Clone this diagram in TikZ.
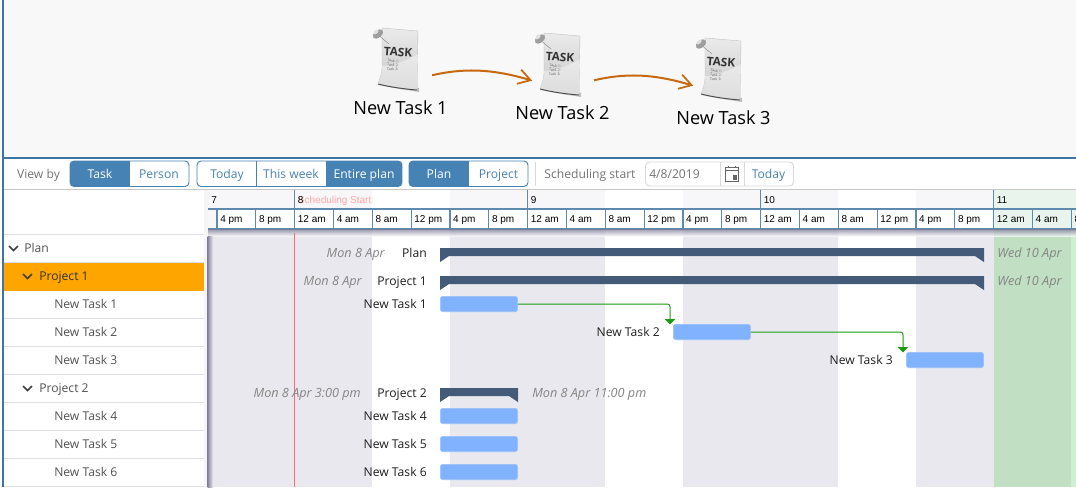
\documentclass[tikz,border=0pt]{standalone}
\usepackage{fontspec}
\setmainfont{Open Sans}
\newfontfamily\headfont{Liberation Sans}
\usetikzlibrary{positioning,arrows.meta}

\definecolor{topgray}{HTML}{F8F8F8}
\definecolor{frameblue}{HTML}{3F74A3}
\definecolor{btnblue}{HTML}{4682B4}
\definecolor{offgray}{HTML}{E9E8EF}
\definecolor{offhead}{HTML}{F7F7FA}
\definecolor{rowline}{HTML}{DFDFE8}
\definecolor{barblue}{HTML}{80B2FF}
\definecolor{sumblue}{HTML}{435A78}
\definecolor{depgreen}{HTML}{1A9A10}
\definecolor{flowbrown}{HTML}{C8680F}
\definecolor{weekgreen}{HTML}{C0DFC3}
\definecolor{weeklight}{HTML}{CFF0D0}
\definecolor{headgreen}{HTML}{E9F4EC}
\definecolor{treeorange}{HTML}{FFA500}
\definecolor{tickblue}{HTML}{5F8AAF}
\definecolor{shadowgray}{HTML}{85839C}
\definecolor{nowred}{HTML}{FF6B70}

% page icon, #1 = name, top left corner of the sheet at (#2,#3)
\newcommand{\taskicon}[3]{
    \begin{scope}[shift={(#2,#3)}]
        \fill[black!25] (-3,57) .. controls (10,60) and (25,62) .. (37,64) -- (37,60) -- (-3,54) -- cycle;
        \shade[top color=black!8, bottom color=black!22, draw=black!25, line width=.3pt]
            (0,0) -- (36,3) -- (35,62) .. controls (22,61) and (8,59) .. (-4,56)
            .. controls (-2,50) and (0,46) .. (0,40) -- cycle;
        \fill[white, opacity=.4] (0,38) .. controls (12,38) and (26,32) .. (36,26) -- (35,62)
            .. controls (22,61) and (8,59) .. (-4,56) .. controls (-2,50) and (0,46) .. (0,40) -- cycle;
        \draw[black!70, line width=.7pt] (-4,56) .. controls (8,59) and (22,61) .. (35,62);
        \draw[black!50, line width=.3pt] (-5,6) -- (7,16);
        \fill[black!38, rotate around={40:(-4,6)}] (-4,6) ellipse [x radius=6, y radius=3.6];
        \fill[black!12, rotate around={40:(-6,4)}] (-6,4) ellipse [x radius=3, y radius=1.8];
        \node[icontitle] at (16,24) {TASK};
        \node[icontiny] at (11,37) {Task 1:\\Task 2:\\Task 3:};
        \node[taskbox] (#1) at (18.5,31) {};
    \end{scope}
}
% button group, the part from #3 to #4 is the active one
\newcommand{\btngroup}[4]{
    \begin{scope}
        \clip[rounded corners=3pt] (#1,161) rectangle (#2,186.5);
        \fill[btnblue] (#3,161) rectangle (#4,186.5);
    \end{scope}
    \draw[btnblue, rounded corners=3pt, line width=.7pt] (#1,161) rectangle (#2,186.5);
}
% summary bar with its two small tips
\newcommand{\sumbar}[3]{
    \fill[sumblue] (#1,#3) -- (#2,#3) -- (#2,#3+14) -- (#2-9,#3+8) -- (#1+9,#3+8) -- (#1,#3+14) -- cycle;
}

\begin{document}
\begin{tikzpicture}[x=.75pt, y=-.75pt,
    txt/.style = {inner sep=0, text height=8.5pt, text depth=1.5pt, font=\fontsize{9.1}{11}\selectfont},
    treetxt/.style = {txt, anchor=west, text=black!68},
    barlabel/.style = {txt, text=black!88},
    datelabel/.style = {txt, text=black!48, font=\fontsize{9.5}{11}\selectfont\itshape},
    btntxt/.style = {txt, text=btnblue},
    btnon/.style = {txt, text=white},
    tooltxt/.style = {txt, text=black!55},
    headtxt/.style = {inner sep=0, anchor=west, text height=6pt, text depth=1.5pt, font=\headfont\fontsize{7.5}{9}\selectfont},
    tasklabel/.style = {inner sep=2.5pt, font=\fontsize{13.6}{16}\selectfont},
    icontitle/.style = {inner sep=0, rotate=-4, text=black!80, font=\fontsize{8.8}{9}\selectfont\bfseries},
    icontiny/.style = {inner sep=0, align=left, rotate=-4, text=black!60, font=\fontsize{2.8}{3.1}\selectfont},
    taskbox/.style = {inner sep=0, minimum width=47pt, minimum height=24pt},
    taskbar/.style = {inner sep=0, anchor=west, fill=barblue, draw=barblue!80!white, line width=.4pt,
        rounded corners=2pt, minimum width=58pt, minimum height=11.6pt},
    flow/.style = {flowbrown, line width=1.5pt, shorten >=-1pt, -{Straight Barb[length=9pt, width=11pt, line width=1.3pt]}},
    dep/.style = {depgreen, line width=.75pt, rounded corners=2pt, -{Triangle[length=4pt, width=7.5pt]}}]
    \useasboundingbox (0,0) rectangle (1076,487);

    % top part with the three tasks
    \fill[topgray] (0,0) rectangle (1076,157);
    \taskicon{icon1}{382}{28}
    \taskicon{icon2}{544}{33}
    \taskicon{icon3}{705}{38}
    \node[tasklabel] (label1) [below=16.5pt of icon1] {New Task 1};
    \node[tasklabel] (label2) [below=16.5pt of icon2] {New Task 2};
    \node[tasklabel] (label3) [below=16.5pt of icon3] {New Task 3};
    \draw[flow] (icon1.south east) .. controls +(30,-7) and +(-40,-12) .. (icon2.south west);
    \draw[flow] (icon2.south east) .. controls +(30,-7) and +(-40,-12) .. (icon3.south west);

    % toolbar
    \fill[white] (4,158) rectangle (1076,189);
    \node[tooltxt] (viewby) at (38.5,173.5) {View by};
    \btngroup{70}{189}{70}{129.5}
    \btngroup{197}{402}{326}{402}
    \btngroup{409}{528}{409}{468.5}
    \draw[btnblue, line width=.7pt] (256.5,161) -- (256.5,186.5);
    \node[btnon] (bytask) at (100,173.5) {Task};
    \node[btntxt] (byperson) at (159,173.5) {Person};
    \node[btntxt] (today) at (227,173.5) {Today};
    \node[btntxt] (week) at (291,173.5) {This week};
    \node[btnon] (entire) at (364,173.5) {Entire plan};
    \node[btnon] (plan) at (439,173.5) {Plan};
    \node[btntxt] (project) at (498.5,173.5) {Project};
    \draw[black!15] (535,162) -- (535,186);
    \node[tooltxt] (schedule) at (590,173.5) {Scheduling start};
    \draw[black!15, rounded corners=3pt, line width=.7pt] (645.5,162) rectangle (793.5,186);
    \draw[black!15, line width=.7pt] (720.5,162) -- (720.5,186) (744.5,162) -- (744.5,186);
    \node[tooltxt, anchor=west] (date) at (649,173.5) {4/8/2019};
    \node[btntxt] (todaytwo) at (768.5,173.5) {Today};
    \draw[black!60, line width=.6pt] (725.5,167.5) rectangle (738.5,181.5);
    \draw[black!60, line width=.6pt] (725.5,170.5) -- (738.5,170.5);
    \fill[black!60] (732.5,175) rectangle (737,180);
    \draw[black!60, line width=.8pt] (728.5,165.5) -- (728.5,168) (735.5,165.5) -- (735.5,168);

    % columns of the chart
    \fill[white] (208,189) rectangle (1076,487);
    \foreach \a/\b in {208/372.4, 450/605.4, 683/838.4, 916/993.6} {
        \fill[offgray] (\a,229) rectangle (\b,487);
        \fill[offhead] (\a,190) rectangle (\b,209);
    }
    \fill[weekgreen] (993.6,229) rectangle (1071.3,487);
    \fill[weeklight] (1071.3,229) rectangle (1076,487);
    \fill[headgreen] (993.6,190) rectangle (1076,229);
    \fill[offhead] (208,209) rectangle (217,229);

    % time scale
    \draw[black!22] (208,189.5) -- (1076,189.5);
    \draw[tickblue, line width=.9pt] (208,209) -- (1076,209) (208,229) -- (1076,229);
    \foreach \k/\lab in {0/4 pm, 1/8 pm, 2/12 am, 3/4 am, 4/8 am, 5/12 pm, 6/4 pm, 7/8 pm, 8/12 am, 9/4 am, 10/8 am,
        11/12 pm, 12/4 pm, 13/8 pm, 14/12 am, 15/4 am, 16/8 am, 17/12 pm, 18/4 pm, 19/8 pm, 20/12 am, 21/4 am, 22/8} {
        \pgfmathsetmacro{\tx}{217+38.83*\k}
        \draw[tickblue, line width=.9pt] (\tx,209) -- (\tx,229);
        \node[headtxt] at (\tx+3,219.5) {\lab};
    }
    \foreach \tx/\lab in {294.7/8, 527.7/9, 760.6/10, 993.6/11} {
        \draw[tickblue, line width=.9pt] (\tx,190) -- (\tx,209);
    }
    \node[headtxt, text=red!35] (schedstart) at (297.7,200) {Scheduling Start};
    \foreach \tx/\lab in {208/7, 294.7/8, 527.7/9, 760.6/10, 993.6/11} {
        \node[headtxt] at (\tx+3,200) {\lab};
    }
    \shade[top color=shadowgray, bottom color=offgray!30, opacity=.75] (208,229.5) rectangle (1076,236);

    % left tree
    \fill[black!4] (204,189) rectangle (208,487);
    \fill[white] (4,189) rectangle (204,487);
    \fill[treeorange] (4,263) rectangle (204,290.5);
    \foreach \y in {234, 262, 318, 346, 374, 402, 430, 458, 486}
        \draw[rowline] (4,\y) -- (204,\y);
    \foreach \x/\y in {9/246, 23/274, 23/386}
        \draw[black!75, line width=1.2pt] (\x,\y) -- (\x+4.5,\y+4.5) -- (\x+9,\y);
    \node[treetxt] (treeplan) at (24,248) {Plan};
    \node[treetxt, text=black!80] (treeone) at (39,276) {Project 1};
    \node[treetxt] (treetwo) at (39,388) {Project 2};
    \foreach \n/\y in {1/304, 2/332, 3/360, 4/416, 5/444, 6/472}
        \node[treetxt] (tree\n) at (54,\y) {New Task \n};
    \shade[left color=shadowgray, right color=offgray] (207.5,236) rectangle (213,487);
    \draw[nowred, line width=1.1pt] (294.7,233) -- (294.7,487);

    % bars
    \sumbar{440}{984}{248}
    \sumbar{440}{984}{276}
    \sumbar{440}{518}{388}
    \node[taskbar] (bar1) at (440,304) {};
    \node[taskbar] (bar2) at (673,332) {};
    \node[taskbar] (bar3) at (906,360) {};
    \node[taskbar] (bar4) at (440,416) {};
    \node[taskbar] (bar5) at (440,444) {};
    \node[taskbar] (bar6) at (440,472) {};
    \foreach \n in {1,...,6}
        \node[barlabel, left=9.75pt of bar\n] (name\n) {New Task \n};
    \node[barlabel, anchor=east] (nameplan) at (427,252.5) {Plan};
    \node[barlabel, anchor=east] (nameone) at (427,280.5) {Project 1};
    \node[barlabel, anchor=east] (nametwo) at (427,392.5) {Project 2};
    \node[datelabel, anchor=east] (startplan) at (385,252.5) {Mon 8 Apr};
    \node[datelabel, anchor=east] (startone) at (362,280.5) {Mon 8 Apr};
    \node[datelabel, anchor=east] (starttwo) at (361,392.5) {Mon 8 Apr 3:00 pm};
    \node[datelabel, anchor=west] (endplan) at (997,252.5) {Wed 10 Apr};
    \node[datelabel, anchor=west] (endone) at (997,280.5) {Wed 10 Apr};
    \node[datelabel, anchor=west] (endtwo) at (532,392.5) {Mon 8 Apr 11:00 pm};

    % links between the tasks
    \coordinate (into2) at (670,324.5);
    \coordinate (into3) at (903,352.5);
    \draw[dep] (bar1.east) -| (into2);
    \draw[dep] (bar2.east) -| (into3);

    % frame
    \draw[frameblue, line width=1.5pt] (3,0) -- (3,487);
    \draw[frameblue, line width=1.5pt] (3,157.5) -- (1076,157.5);
    \draw[black!22] (4,189.5) -- (208,189.5);
\end{tikzpicture}
\end{document}
